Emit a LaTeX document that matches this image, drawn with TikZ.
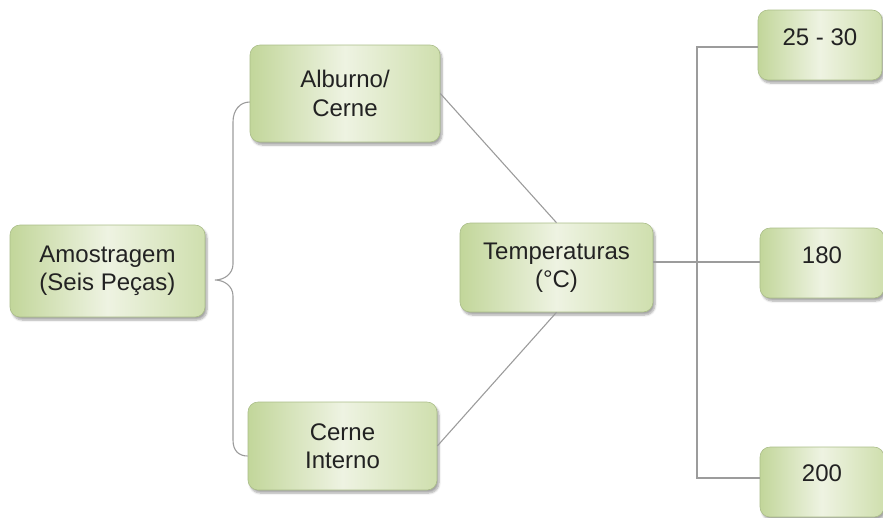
\documentclass[tikz,border=0pt]{standalone}
\usepackage{fontspec}
\setmainfont{Liberation Sans}
\usetikzlibrary{shadows.blur,calc}
\definecolor{gA}{HTML}{C2D69A}
\definecolor{gB}{HTML}{EEF3E2}
\definecolor{gC}{HTML}{CFDFAE}
\definecolor{bord}{HTML}{AABD88}
\definecolor{lnk}{HTML}{9C9C9C}
\definecolor{txt}{HTML}{222222}
\begin{document}
\begin{tikzpicture}[x=1pt,y=-1pt,
  box/.style={draw=bord, line width=0.6pt, rounded corners=10pt,
    left color=gA, right color=gC, middle color=gB,
    blur shadow={shadow xshift=2pt, shadow yshift=-3pt, shadow opacity=35, shadow blur steps=6},
    inner sep=0pt, align=center, text=txt,
    font=\fontsize{24}{28.5}\selectfont},
  conn/.style={draw=lnk, line width=1.1pt}]
\useasboundingbox (0,0) rectangle (883,517);
\begin{scope}
\clip (0,0) rectangle (883,517);
\node[box, minimum width=195pt, minimum height=92pt] (amo) at (107.5,271) {Amostragem\\(Seis Peças)};
\node[box, minimum width=190pt, minimum height=97pt] (alb) at (345,93.5) {Alburno/\\Cerne};
\node[box, minimum width=189pt, minimum height=88pt] (int) at (342.5,446) {Cerne\\Interno};
\node[box, minimum width=193pt, minimum height=89pt] (tmp) at (556.5,267.5) {Temperaturas\\(°C)};
\node[box, minimum width=124pt, minimum height=70pt] (b25) at (820,45) {\raisebox{8pt}[\height][\depth]{25 - 30}};
\node[box, minimum width=124pt, minimum height=70pt] (b180) at (822,263) {\raisebox{8pt}[\height][\depth]{180}};
\node[box, minimum width=124pt, minimum height=70pt] (b200) at (822,482) {\raisebox{9pt}[\height][\depth]{200}};

% left brace
\coordinate (bp) at (215,280);
\draw[conn] (alb.west |- 0,102) .. controls (240,102) and (233,110) .. (233,122)
  -- (233,264) .. controls (233,274) and (224,280) .. (bp)
  .. controls (224,280) and (233,286) .. (233,296)
  -- (233,440) .. controls (233,451) and (239,456) .. (int.west |- 0,456);

% diagonal connectors
\draw[conn] (alb.east) -- (tmp.north);
\draw[conn] (int.east) -- (tmp.south);

% right bracket
\coordinate (rj) at (697,262);
\draw[conn] (tmp.east |- rj) -- (b180.west |- rj);
\draw[conn] (b25.west |- 697,47) -| (697,478) -- (b200.west |- 697,478);
\end{scope}
\end{tikzpicture}
\end{document}
